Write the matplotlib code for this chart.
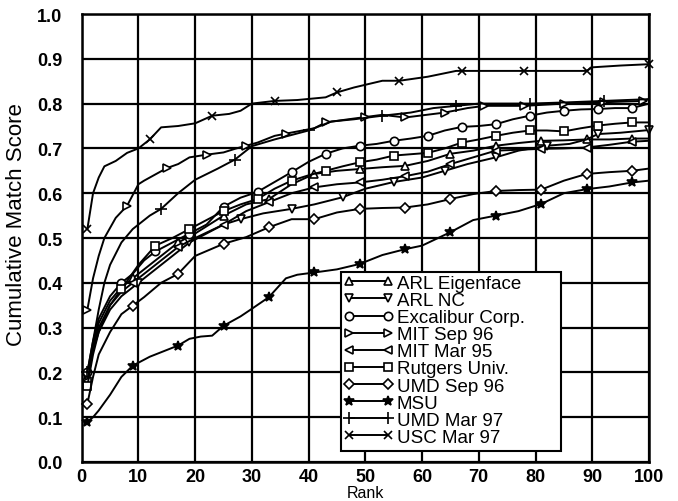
import matplotlib
matplotlib.use("Agg")
import matplotlib.pyplot as plt
from matplotlib.patches import Rectangle

plt.rcParams["font.family"] = ["Liberation Sans", "DejaVu Sans"]

# Cumulative match score vs. rank for each algorithm
usc_mar97_rank = [1, 2, 3, 4, 6, 8, 10, 12, 14, 17, 20, 23, 26, 28, 30, 34, 38, 43, 45, 48,
                  53, 56, 61, 66, 67, 78, 89, 90, 95, 100]
usc_mar97 = [0.52, 0.60, 0.635, 0.66, 0.672, 0.69, 0.70, 0.72, 0.747, 0.75, 0.756, 0.773, 0.777,
             0.784, 0.80, 0.806, 0.808, 0.814, 0.825, 0.836, 0.851, 0.851, 0.86, 0.873, 0.873,
             0.873, 0.873, 0.881, 0.885, 0.888]
usc_mar97_marks = [1, 12, 23, 34, 45, 56, 67, 78, 89, 100]

mit_sep96_rank = [1, 2, 3, 4, 6, 8, 10, 11, 15, 17, 19, 22, 25, 27, 29, 31, 34, 36, 41, 43, 47,
                  50, 53, 57, 64, 68, 71, 78, 85, 92, 99, 100]
mit_sep96 = [0.34, 0.41, 0.46, 0.50, 0.545, 0.572, 0.62, 0.628, 0.656, 0.665, 0.68, 0.686, 0.691,
             0.699, 0.706, 0.713, 0.728, 0.733, 0.745, 0.758, 0.765, 0.77, 0.775, 0.769, 0.78,
             0.79, 0.795, 0.795, 0.80, 0.803, 0.806, 0.81]
mit_sep96_marks = [1, 8, 15, 22, 29, 36, 43, 50, 57, 64, 71, 78, 85, 92, 99]

umd_mar97_rank = [1, 2, 3, 4, 5, 7, 9, 12, 14, 17, 20, 24, 27, 30, 34, 40, 44, 48, 53, 58, 62,
                  66, 70, 79, 86, 92, 100]
umd_mar97 = [0.20, 0.27, 0.34, 0.40, 0.44, 0.49, 0.52, 0.55, 0.565, 0.60, 0.63, 0.655, 0.675,
             0.705, 0.72, 0.74, 0.76, 0.765, 0.773, 0.78, 0.79, 0.795, 0.80, 0.80, 0.803, 0.806,
             0.81]
umd_mar97_marks = [1, 14, 27, 40, 53, 66, 79, 92]

excalibur_rank = [1, 2, 3, 5, 7, 9, 11, 13, 16, 19, 22, 25, 28, 31, 34, 37, 40, 43, 46, 49, 52,
                  55, 58, 61, 64, 67, 70, 73, 76, 79, 82, 85, 88, 91, 94, 97, 100]
excalibur = [0.20, 0.27, 0.32, 0.37, 0.40, 0.42, 0.45, 0.47, 0.49, 0.51, 0.53, 0.57, 0.59, 0.603,
             0.625, 0.647, 0.67, 0.688, 0.70, 0.706, 0.71, 0.717, 0.722, 0.728, 0.74, 0.748,
             0.75, 0.754, 0.765, 0.773, 0.78, 0.784, 0.787, 0.788, 0.79, 0.79, 0.80]
excalibur_marks = [1, 7, 13, 19, 25, 31, 37, 43, 49, 55, 61, 67, 73, 79, 85, 91, 97]

rutgers_rank = [1, 2, 3, 5, 7, 10, 13, 16, 19, 22, 25, 28, 31, 34, 37, 40, 43, 46, 49, 52, 55,
                58, 61, 64, 67, 70, 73, 76, 79, 82, 85, 88, 91, 94, 97, 100]
rutgers = [0.17, 0.24, 0.29, 0.35, 0.386, 0.44, 0.483, 0.50, 0.52, 0.54, 0.56, 0.575, 0.587,
           0.61, 0.628, 0.64, 0.65, 0.66, 0.669, 0.675, 0.684, 0.687, 0.69, 0.70, 0.713, 0.72,
           0.728, 0.735, 0.74, 0.74, 0.738, 0.745, 0.751, 0.755, 0.758, 0.758]
rutgers_marks = [1, 7, 13, 19, 25, 31, 37, 43, 49, 55, 61, 67, 73, 79, 85, 91, 97]

arl_eig_rank = [1, 2, 3, 5, 7, 9, 12, 15, 17, 20, 25, 29, 33, 37, 41, 45, 49, 53, 57, 61, 65,
                69, 73, 77, 81, 85, 89, 93, 97, 100]
arl_eig = [0.19, 0.26, 0.31, 0.36, 0.39, 0.41, 0.44, 0.47, 0.49, 0.51, 0.55, 0.575, 0.587, 0.62,
           0.643, 0.65, 0.654, 0.658, 0.661, 0.672, 0.688, 0.695, 0.706, 0.712, 0.717, 0.718,
           0.72, 0.72, 0.722, 0.722]
arl_eig_marks = [1, 9, 17, 25, 33, 41, 49, 57, 65, 73, 81, 89, 97]

mit_mar95_rank = [1, 2, 3, 5, 7, 9, 12, 15, 17, 20, 25, 29, 33, 37, 41, 45, 49, 53, 57, 61, 65,
                  69, 73, 77, 81, 85, 89, 93, 97, 100]
mit_mar95 = [0.18, 0.25, 0.30, 0.35, 0.38, 0.40, 0.43, 0.46, 0.48, 0.50, 0.53, 0.56, 0.58, 0.60,
             0.613, 0.62, 0.624, 0.63, 0.638, 0.648, 0.665, 0.68, 0.695, 0.697, 0.699, 0.70,
             0.702, 0.708, 0.715, 0.717]
mit_mar95_marks = [1, 9, 17, 25, 33, 41, 49, 57, 65, 73, 81, 89, 97]

arl_nc_rank = [1, 2, 3, 5, 7, 10, 13, 16, 19, 22, 25, 28, 32, 37, 41, 46, 50, 55, 60, 64, 68,
               73, 77, 82, 86, 89, 91, 95, 100]
arl_nc = [0.19, 0.25, 0.29, 0.34, 0.37, 0.40, 0.43, 0.46, 0.49, 0.51, 0.53, 0.542, 0.555, 0.565,
          0.575, 0.591, 0.61, 0.625, 0.635, 0.65, 0.665, 0.68, 0.695, 0.706, 0.71, 0.72, 0.732,
          0.735, 0.741]
arl_nc_marks = [1, 10, 19, 28, 37, 46, 55, 64, 73, 82, 91, 100]

umd_sep96_rank = [1, 2, 3, 5, 7, 9, 11, 14, 17, 20, 25, 29, 33, 37, 41, 45, 49, 53, 57, 61, 65,
                  69, 73, 77, 81, 85, 89, 93, 97, 100]
umd_sep96 = [0.13, 0.19, 0.24, 0.29, 0.33, 0.349, 0.368, 0.40, 0.42, 0.46, 0.487, 0.502, 0.524,
             0.542, 0.542, 0.557, 0.565, 0.567, 0.568, 0.575, 0.587, 0.598, 0.605, 0.607, 0.608,
             0.628, 0.643, 0.647, 0.65, 0.655]
umd_sep96_marks = [1, 9, 17, 25, 33, 41, 49, 57, 65, 73, 81, 89, 97]

msu_rank = [1, 2, 3, 5, 7, 9, 12, 15, 17, 19, 21, 23, 25, 28, 30, 33, 36, 38, 41, 45, 49, 53,
            57, 60, 65, 69, 73, 77, 81, 85, 89, 93, 97, 100]
msu = [0.09, 0.10, 0.115, 0.15, 0.19, 0.215, 0.235, 0.25, 0.26, 0.275, 0.28, 0.282, 0.304,
       0.325, 0.342, 0.368, 0.41, 0.418, 0.423, 0.43, 0.442, 0.462, 0.475, 0.483, 0.513, 0.54,
       0.55, 0.56, 0.576, 0.60, 0.609, 0.615, 0.624, 0.628]
msu_marks = [1, 9, 17, 25, 33, 41, 49, 57, 65, 73, 81, 89, 97]

series = [
    ("ARL Eigenface", arl_eig_rank, arl_eig, arl_eig_marks, "^"),
    ("ARL NC", arl_nc_rank, arl_nc, arl_nc_marks, "v"),
    ("Excalibur Corp.", excalibur_rank, excalibur, excalibur_marks, "o"),
    ("MIT Sep 96", mit_sep96_rank, mit_sep96, mit_sep96_marks, ">"),
    ("MIT Mar 95", mit_mar95_rank, mit_mar95, mit_mar95_marks, "<"),
    ("Rutgers Univ.", rutgers_rank, rutgers, rutgers_marks, "s"),
    ("UMD Sep 96", umd_sep96_rank, umd_sep96, umd_sep96_marks, "D"),
    ("MSU", msu_rank, msu, msu_marks, "*"),
    ("UMD Mar 97", umd_mar97_rank, umd_mar97, umd_mar97_marks, "+"),
    ("USC Mar 97", usc_mar97_rank, usc_mar97, usc_mar97_marks, "x"),
]

marker_sizes = {"^": 6, "v": 6, "o": 6, ">": 6, "<": 6, "s": 6, "D": 5,
                "*": 7, "+": 8, "x": 6}

fig = plt.figure(figsize=(6.78, 5.02), dpi=100)
ax = fig.add_axes([0.1205, 0.0777, 0.8367, 0.8924])

for label, ranks, vals, marks, m in series:
    idx = [ranks.index(r) for r in marks]
    filled = m in ("*",)
    ax.plot(ranks, vals, color="black", lw=1.4, marker=m, markevery=idx,
            markersize=marker_sizes[m], markeredgewidth=1.2,
            markerfacecolor="black" if filled else "white",
            markeredgecolor="black", label=label, clip_on=False)

ax.set_xlim(0, 100)
ax.set_ylim(0, 1.0)
ax.set_xticks(range(0, 101, 10))
ax.set_yticks([i / 10 for i in range(11)])
ax.set_yticklabels([f"{i / 10:.1f}" for i in range(11)])
ax.grid(True, color="black", lw=1.6)
ax.set_axisbelow(True)
for sp in ax.spines.values():
    sp.set_linewidth(1.8)
ax.tick_params(length=0, labelsize=13)
ax.tick_params(axis="y", pad=14)
ax.tick_params(axis="x", pad=4)
for t in ax.get_xticklabels() + ax.get_yticklabels():
    t.set_fontweight("bold")

ax.set_xlabel("Rank", fontsize=11.5, labelpad=0)
ax.set_ylabel("Cumulative Match Score", fontsize=16)
ax.yaxis.set_label_coords(-0.097, 0.533)

# legend box with extra room on the right
box = Rectangle((0.457, 0.025), 0.388, 0.399, transform=ax.transAxes,
                facecolor="white", edgecolor="black", lw=1.5, zorder=4.5)
ax.add_patch(box)
leg = ax.legend(loc="upper left", bbox_to_anchor=(0.461, 0.418), numpoints=2,
                handlelength=2.7, handletextpad=0.15, labelspacing=0.0,
                borderpad=0.0, borderaxespad=0, fontsize=13.5, frameon=False)
leg.set_zorder(5)

fig.savefig("out.png", dpi=100)
